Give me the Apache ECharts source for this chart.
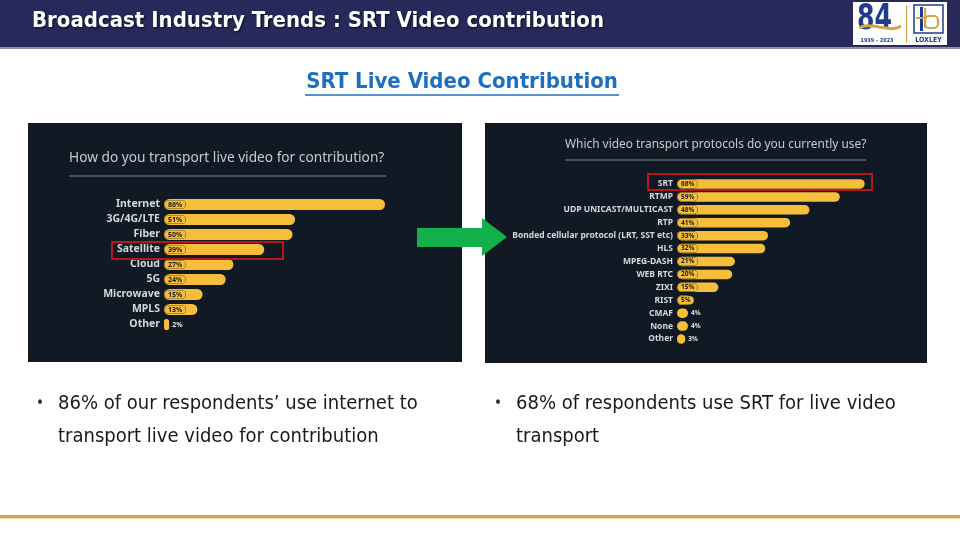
<!DOCTYPE html>
<html>
<head>
<meta charset="utf-8">
<title>SRT Video contribution</title>
<script src="https://cdn.jsdelivr.net/npm/echarts@6/dist/echarts.min.js"></script>
<style>
  html, body { margin: 0; padding: 0; background: #fff; }
  #main { width: 960px; height: 540px; }
</style>
</head>
<body>
<div id="main"></div>
<script>
// left survey: how live video is transported
var leftCats = ['Internet', '3G/4G/LTE', 'Fiber', 'Satellite', 'Cloud', '5G', 'Microwave', 'MPLS', 'Other'];
var leftVals = [86, 51, 50, 39, 27, 24, 15, 13, 2];

// right survey: transport protocols in use
var rightCats = ['SRT', 'RTMP', 'UDP UNICAST/MULTICAST', 'RTP', 'Bonded cellular protocol (LRT, SST etc)',
                 'HLS', 'MPEG-DASH', 'WEB RTC', 'ZIXI', 'RIST', 'CMAF', 'None', 'Other'];
var rightVals = [68, 59, 48, 41, 33, 32, 21, 20, 15, 5, 4, 4, 3];

var slideFont = '"DejaVu Sans Condensed", "DejaVu Sans", sans-serif';
var chartFont = '"Noto Sans", "Open Sans", sans-serif';
var barColor = '#f6be3b';
var panelColor = '#111a24';

var chart = echarts.init(document.getElementById('main'));

// small values get their label outside the bar
function barData(vals, fontSize) {
    return vals.map(function (v) {
        if (v < 5) {
            return {
                value: v,
                label: { position: 'right', distance: 3, color: '#e4e4e4', fontSize: fontSize, fontWeight: 'bold' }
            };
        }
        return {
            value: v,
            label: {
                position: 'insideLeft', distance: 1, color: '#1d1a14', fontSize: fontSize, fontWeight: 'bold',
                backgroundColor: barColor, borderColor: '#6b5520', borderWidth: 0.6, borderRadius: 5,
                padding: [1, 3, 0, 3]
            }
        };
    });
}

function txt(x, y, text, font, fill, align, extra) {
    var st = {
        x: x, y: y, text: text, font: font, fill: fill,
        textAlign: align || 'left', textVerticalAlign: 'middle',
        align: align || 'left', verticalAlign: 'middle'
    };
    if (extra) { for (var k in extra) st[k] = extra[k]; }
    return { type: 'text', z: 20, style: st };
}

var graphics = [
    // header band
    { type: 'rect', z: 1, shape: { x: 0, y: 0, width: 960, height: 48 }, style: { fill: '#26295a' } },
    { type: 'rect', z: 1, shape: { x: 0, y: 47, width: 960, height: 2 }, style: { fill: '#8d90aa' } },
    txt(32, 21, 'Broadcast Industry Trends : SRT Video contribution', 'bold 22px ' + slideFont, '#ffffff', 'left',
        { textShadowColor: 'rgba(0,0,0,0.7)', textShadowBlur: 2, textShadowOffsetX: 1, textShadowOffsetY: 1 }),

    // logo box
    { type: 'rect', z: 2, shape: { x: 853, y: 2, width: 94, height: 43 }, style: { fill: '#ffffff' } },
    { type: 'text', z: 21, x: 857, y: 20, scaleY: 1.25,
      style: { x: 0, y: 0, text: '84', font: 'bold 28px ' + slideFont, fill: '#1f3c8c',
               textVerticalAlign: 'middle', verticalAlign: 'middle' } },
    { type: 'bezierCurve', z: 22,
      shape: { x1: 859, y1: 28, x2: 901, y2: 26, cpx1: 872, cpy1: 21, cpx2: 890, cpy2: 34 },
      style: { stroke: '#d4a64a', lineWidth: 3, fill: null } },
    txt(877, 41, '1939 - 2023', 'bold 5.5px ' + slideFont, '#1f3c8c', 'center'),
    { type: 'rect', z: 3, shape: { x: 906, y: 5, width: 1.2, height: 38 }, style: { fill: '#d4a64a' } },
    { type: 'rect', z: 3, shape: { x: 914, y: 5, width: 29, height: 28 }, style: { fill: '#ffffff', stroke: '#1f3c8c', lineWidth: 1.5 } },
    { type: 'rect', z: 4, shape: { x: 920, y: 7, width: 3, height: 24 }, style: { fill: '#1f3c8c' } },
    { type: 'rect', z: 4, shape: { x: 925, y: 16, width: 13, height: 12, r: 4 }, style: { fill: null, stroke: '#d4a64a', lineWidth: 2.2 } },
    { type: 'rect', z: 4, shape: { x: 924, y: 8, width: 2.2, height: 20 }, style: { fill: '#d4a64a' } },
    { type: 'rect', z: 4, shape: { x: 916, y: 17, width: 10, height: 2 }, style: { fill: '#d4a64a' } },
    txt(928.5, 40, 'LOXLEY', 'bold 7px ' + slideFont, '#1f3c8c', 'center'),

    // subtitle with underline
    txt(462, 82, 'SRT Live Video Contribution', 'bold 22px ' + slideFont, '#1f6fc0', 'center'),
    { type: 'line', z: 20, shape: { x1: 305, y1: 95, x2: 619, y2: 95 }, style: { stroke: '#1f6fc0', lineWidth: 1.5 } },

    // dark screenshot panels
    { type: 'rect', z: 0, shape: { x: 28, y: 123, width: 434, height: 239 }, style: { fill: panelColor } },
    { type: 'rect', z: 0, shape: { x: 485, y: 123, width: 442, height: 240 }, style: { fill: panelColor } },

    // panel questions
    txt(69, 158, 'How do you transport live video for contribution?', '13.7px ' + chartFont, '#c6cacf'),
    { type: 'line', z: 20, shape: { x1: 69, y1: 176, x2: 386, y2: 176 }, style: { stroke: '#7e858d', lineWidth: 1 } },
    txt(565, 145, 'Which video transport protocols do you currently use?', '11.9px ' + chartFont, '#c6cacf'),
    { type: 'line', z: 20, shape: { x1: 565, y1: 160, x2: 866, y2: 160 }, style: { stroke: '#7e858d', lineWidth: 1 } },

    // highlight boxes
    { type: 'rect', z: 30, shape: { x: 112, y: 242, width: 171, height: 17 }, style: { fill: null, stroke: '#b3161b', lineWidth: 2 } },
    { type: 'rect', z: 30, shape: { x: 648, y: 174, width: 224, height: 16 }, style: { fill: null, stroke: '#b3161b', lineWidth: 2 } },

    // green arrow
    { type: 'polygon', z: 25,
      shape: { points: [[417, 228], [482, 228], [482, 218], [507, 237], [482, 256], [482, 247], [417, 247]] },
      style: { fill: '#12b04a' } },

    // bullets
    txt(36, 404, '•', '15px ' + slideFont, '#333333'),
    txt(58, 404, '86% of our respondents\u2019 use internet to', '20px ' + slideFont, '#1a1a1a'),
    txt(58, 437, 'transport live video for contribution', '20px ' + slideFont, '#1a1a1a'),
    txt(494, 404, '•', '15px ' + slideFont, '#333333'),
    txt(516, 404, '68% of respondents use SRT for live video', '20px ' + slideFont, '#1a1a1a'),
    txt(516, 437, 'transport', '20px ' + slideFont, '#1a1a1a'),

    // footer rule
    { type: 'rect', z: 1, shape: { x: 0, y: 515, width: 960, height: 3 }, style: { fill: '#d6a24f' } },
    { type: 'rect', z: 1, shape: { x: 0, y: 518, width: 960, height: 1 }, style: { fill: '#f1dcb4' } }
];

var option = {
    backgroundColor: '#ffffff',
    animation: false,
    textStyle: { fontFamily: chartFont },
    graphic: graphics,
    grid: [
        { left: 164, top: 197, width: 257, height: 135 },
        { left: 677, top: 177.5, width: 276, height: 168 }
    ],
    xAxis: [
        { gridIndex: 0, type: 'value', min: 0, max: 100, show: false },
        { gridIndex: 1, type: 'value', min: 0, max: 100, show: false }
    ],
    yAxis: [
        {
            gridIndex: 0, type: 'category', inverse: true, data: leftCats,
            axisLine: { show: false }, axisTick: { show: false },
            axisLabel: { margin: 4, color: '#d4d7db', fontSize: 10.5, fontWeight: 'bold' }
        },
        {
            gridIndex: 1, type: 'category', inverse: true, data: rightCats,
            axisLine: { show: false }, axisTick: { show: false },
            axisLabel: { margin: 4, color: '#d4d7db', fontSize: 8.5, fontWeight: 'bold' }
        }
    ],
    series: [
        {
            name: 'contribution', type: 'bar', xAxisIndex: 0, yAxisIndex: 0,
            barWidth: 11,
            itemStyle: { color: barColor, borderRadius: 6 },
            label: { show: true, formatter: '{c}%' },
            data: barData(leftVals, 7)
        },
        {
            name: 'protocols', type: 'bar', xAxisIndex: 1, yAxisIndex: 1,
            barWidth: 9.5,
            itemStyle: { color: barColor, borderRadius: 5 },
            label: { show: true, formatter: '{c}%' },
            data: barData(rightVals, 6.5)
        }
    ]
};

chart.setOption(option);
</script>
</body>
</html>
